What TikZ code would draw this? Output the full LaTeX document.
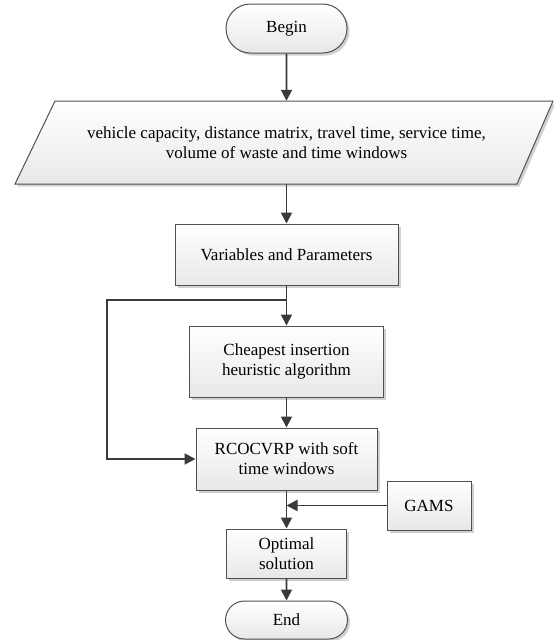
\documentclass[tikz,border=0pt]{standalone}
\usepackage{fontspec}
\setmainfont{Liberation Serif}
\usetikzlibrary{shapes.misc,shadows,arrows.meta,calc}
\definecolor{lc}{HTML}{3A3A3A}
\definecolor{bc}{HTML}{505050}
\begin{document}
\begin{tikzpicture}[x=1pt,y=-1pt,
  font=\fontsize{17}{20}\selectfont,
  shd/.style={drop shadow={shadow xshift=2.5pt,shadow yshift=-2.5pt,fill=black!30,opacity=0.6}},
  boxst/.style={draw=bc,line width=1pt,top color=white,bottom color=black!9,shd,
    align=center,inner sep=0pt},
  procbox/.style={boxst,rectangle},
  termbox/.style={boxst,rounded rectangle},
  flow/.style={draw=lc,line width=1.9pt,-{Triangle[length=11pt,width=11pt]}},
  plainline/.style={draw=lc,line width=1.9pt}]
\useasboundingbox (0,0) rectangle (554,640);
\node[termbox,minimum width=121pt,minimum height=49pt] (begin) at (286.5,28.5) {Begin};
\path[draw=bc,line width=1pt,top color=white,bottom color=black!9,shd]
  (55,101) -- (553,101) -- (517,184) -- (15,184) -- cycle;
\node[align=center,minimum width=462pt,minimum height=83pt,inner sep=0pt] (in) at (286.5,142.5)
  {vehicle capacity, distance matrix, travel time, service time,\\volume of waste and time windows};
\node[procbox,minimum width=223pt,minimum height=61pt] (var) at (286.5,254.5) {Variables and Parameters};
\node[procbox,minimum width=194pt,minimum height=71pt] (cheap) at (286.5,361.5) {Cheapest insertion\\heuristic algorithm};
\node[procbox,minimum width=181pt,minimum height=62pt] (rco) at (286.5,459) {RCOCVRP with soft\\time windows};
\node[procbox,minimum width=84pt,minimum height=49pt] (gams) at (429,505.5) {GAMS};
\node[procbox,minimum width=120pt,minimum height=49pt] (opt) at (286.5,553.5) {Optimal\\solution};
\node[termbox,minimum width=122pt,minimum height=38pt] (end) at (286.5,620) {End};
\coordinate (br) at (286.5,300);
\coordinate (lt) at (107,300);
\coordinate (lb) at (107,459);
\coordinate (jn) at (286.5,505.5);
\draw[flow] (begin) -- (in);
\draw[flow] (in) -- (var);
\draw[flow] (var) -- (cheap);
\draw[flow] (cheap) -- (rco);
\draw[flow] (br) -- (lt) -- (lb) -- (rco.west);
\draw[flow] (rco) -- (opt);
\draw[flow] (gams.west) -- (jn);
\draw[flow] (opt) -- (end);
\end{tikzpicture}
\end{document}
